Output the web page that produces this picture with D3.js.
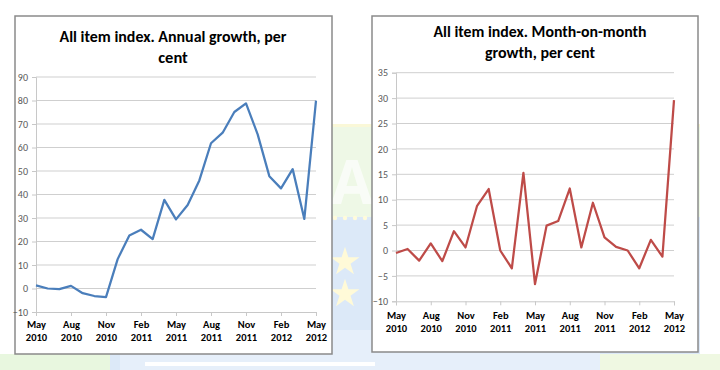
<!DOCTYPE html>
<html>
<head>
<meta charset="utf-8">
<script src="https://cdn.jsdelivr.net/npm/d3@7/dist/d3.min.js"></script>
<style>
  body { margin: 0; background: #fff; }
  svg { display: block; }
</style>
</head>
<body>
<svg width="720" height="370"></svg>
<script>
// months May 2010 .. May 2012
var months = ["May 2010", "Jun 2010", "Jul 2010", "Aug 2010", "Sep 2010", "Oct 2010", "Nov 2010",
    "Dec 2010", "Jan 2011", "Feb 2011", "Mar 2011", "Apr 2011", "May 2011", "Jun 2011", "Jul 2011",
    "Aug 2011", "Sep 2011", "Oct 2011", "Nov 2011", "Dec 2011", "Jan 2012", "Feb 2012", "Mar 2012",
    "Apr 2012", "May 2012"];

var tickLabels = [["May", "2010"], ["Aug", "2010"], ["Nov", "2010"], ["Feb", "2011"], ["May", "2011"],
    ["Aug", "2011"], ["Nov", "2011"], ["Feb", "2012"], ["May", "2012"]];

var annualGrowth = [1.3, 0, -0.3, 1.1, -2, -3.2, -3.7, 12.5, 22.6, 25, 21, 37.7, 29.4, 35.5, 46,
    61.8, 66.3, 75.1, 78.8, 65.6, 47.8, 42.6, 50.8, 29.6, 79.9];

var monthlyGrowth = [-0.5, 0.3, -2, 1.4, -2.1, 3.8, 0.6, 8.8, 12.1, 0, -3.5, 15.3, -6.6, 4.9, 5.8,
    12.2, 0.6, 9.4, 2.6, 0.7, 0, -3.5, 2.1, -1.2, 29.6];

var annualTicks = [-10, 0, 10, 20, 30, 40, 50, 60, 70, 80, 90];
var monthlyTicks = [-10, -5, 0, 5, 10, 15, 20, 25, 30, 35];

var svg = d3.select("svg");
var fontText = "Carlito, 'Liberation Sans Narrow', 'Open Sans', sans-serif";

// faded background picture behind the charts
var bg = svg.append("g").attr("opacity", 0.4);
bg.append("rect").attr("x", 20).attr("y", 125).attr("width", 680).attr("height", 92).attr("fill", "#d6f0c2");
bg.append("rect").attr("x", 20).attr("y", 124).attr("width", 680).attr("height", 3).attr("fill", "#f5f0a0");
bg.append("rect").attr("x", 20).attr("y", 217).attr("width", 680).attr("height", 153).attr("fill", "#a9c9f0");
bg.append("rect").attr("x", 120).attr("y", 330).attr("width", 480).attr("height", 40).attr("fill", "#c3d9f5");
bg.append("rect").attr("x", 0).attr("y", 354).attr("width", 110).attr("height", 16).attr("fill", "#c8ecb0");
bg.append("rect").attr("x", 600).attr("y", 354).attr("width", 120).attr("height", 16).attr("fill", "#d8f0b8");
bg.append("rect").attr("x", 145).attr("y", 362).attr("width", 230).attr("height", 4).attr("fill", "#ffffff");
[262, 294].forEach(function(cy) {
    bg.append("path")
        .attr("d", d3.symbol().type(d3.symbolStar).size(260)())
        .attr("transform", "translate(345," + cy + ")")
        .attr("fill", "#fff4a0");
});
d3.range(335, 372, 10).forEach(function(cx) {
    bg.append("circle").attr("cx", cx).attr("cy", 218).attr("r", 2.2).attr("fill", "#fff6a8");
});
bg.append("text").attr("x", 352).attr("y", 204).attr("text-anchor", "middle")
    .attr("font-family", "'Open Sans', sans-serif").attr("font-weight", "bold")
    .attr("font-size", 60).attr("fill", "#ffffff").attr("opacity", 0.7).text("A");

function drawPanel(cfg) {
    var g = svg.append("g");

    g.append("rect")
        .attr("x", cfg.box[0]).attr("y", cfg.box[1])
        .attr("width", cfg.box[2]).attr("height", cfg.box[3])
        .attr("fill", "#fff").attr("stroke", "#8a8a8a").attr("stroke-width", 1.5);

    var x = d3.scaleLinear().domain([0, months.length - 1]).range([cfg.plot[0], cfg.plot[1]]);
    var y = d3.scaleLinear().domain(cfg.domain).range([cfg.plot[3], cfg.plot[2]]);

    // title
    cfg.title.forEach(function(line, i) {
        var t = g.append("text")
            .attr("x", cfg.titleX).attr("y", cfg.titleY + i * 21)
            .attr("text-anchor", "middle")
            .attr("font-family", fontText).attr("font-weight", "bold")
            .attr("font-size", 16.5).attr("fill", "#000")
            .text(line);
        var maxW = cfg.titleW[i];
        if (t.node().getComputedTextLength() > maxW) {
            t.attr("textLength", maxW).attr("lengthAdjust", "spacingAndGlyphs");
        }
    });

    // gridlines
    g.append("g").selectAll("line")
        .data(cfg.ticks.filter(function(d) { return d !== cfg.domain[0]; }))
        .enter().append("line")
        .attr("x1", cfg.plot[0]).attr("x2", cfg.plot[1])
        .attr("y1", function(d) { return y(d); }).attr("y2", function(d) { return y(d); })
        .attr("stroke", "#cfcfcf").attr("stroke-width", 1);

    // y axis
    var yAxis = g.append("g")
        .attr("transform", "translate(" + cfg.plot[0] + ",0)")
        .call(d3.axisLeft(y).tickValues(cfg.ticks).tickSize(4).tickPadding(4));
    yAxis.select(".domain").attr("stroke", "#c8c8c8");
    yAxis.selectAll(".tick line").attr("stroke", "#c8c8c8");
    yAxis.selectAll(".tick text")
        .attr("font-family", fontText).attr("font-size", 10).attr("fill", "#595959");

    // x axis
    var tickIdx = d3.range(0, months.length, 3);
    var xAxis = g.append("g")
        .attr("transform", "translate(0," + cfg.plot[3] + ")")
        .call(d3.axisBottom(x).tickValues(tickIdx).tickSize(4).tickFormat(""));
    xAxis.select(".domain").attr("stroke", "#c8c8c8");
    xAxis.selectAll(".tick line").attr("stroke", "#c8c8c8");
    xAxis.selectAll(".tick").each(function(d, i) {
        var lbl = d3.select(this).append("text")
            .attr("text-anchor", "middle")
            .attr("font-family", fontText).attr("font-size", 10.5)
            .attr("font-weight", 600)
            .attr("fill", "#000");
        lbl.append("tspan").attr("x", 0).attr("y", cfg.labelDy).text(tickLabels[i][0]);
        lbl.append("tspan").attr("x", 0).attr("y", cfg.labelDy + 13).text(tickLabels[i][1]);
    });

    // series
    var line = d3.line()
        .x(function(d, i) { return x(i); })
        .y(function(d) { return y(d); });
    g.append("path")
        .datum(cfg.values)
        .attr("d", line)
        .attr("fill", "none")
        .attr("stroke", cfg.color)
        .attr("stroke-width", 2.25)
        .attr("stroke-linejoin", "round");
}

drawPanel({
    box: [15, 16, 317, 338],
    plot: [36, 316, 77, 312],
    domain: [-10, 90],
    ticks: annualTicks,
    values: annualGrowth,
    color: "#4a7ebb",
    title: ["All item index. Annual growth, per", "cent"],
    titleX: 173, titleY: 42, titleW: [227, 40],
    labelDy: 16
});

drawPanel({
    box: [372, 16, 326, 336],
    plot: [396, 674, 72.7, 301.3],
    domain: [-10, 35],
    ticks: monthlyTicks,
    values: monthlyGrowth,
    color: "#be4b48",
    title: ["All item index. Month-on-month", "growth, per cent"],
    titleX: 540, titleY: 36.5, titleW: [213, 110],
    labelDy: 18
});
</script>
</body>
</html>
